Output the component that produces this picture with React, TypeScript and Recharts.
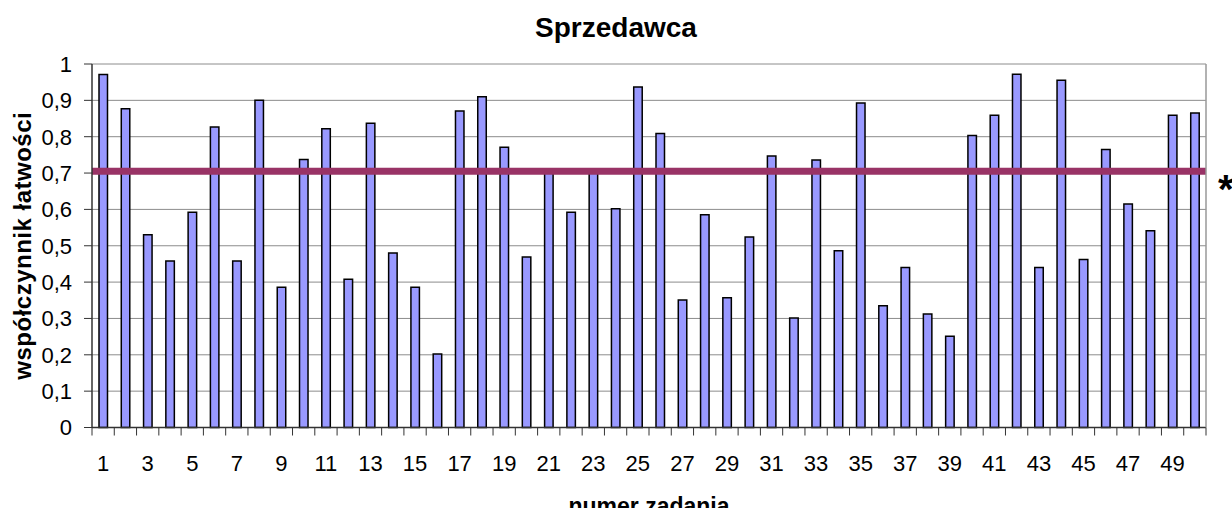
import { BarChart, Bar, XAxis, YAxis, CartesianGrid, ReferenceLine } from 'recharts'

const TASKS = [
  '1', '2', '3', '4', '5', '6', '7', '8', '9', '10',
  '11', '12', '13', '14', '15', '16', '17', '18', '19', '20',
  '21', '22', '23', '24', '25', '26', '27', '28', '29', '30',
  '31', '32', '33', '34', '35', '36', '37', '38', '39', '40',
  '41', '42', '43', '44', '45', '46', '47', '48', '49', '50',
]

const EASE = [
  0.971, 0.877, 0.53, 0.458, 0.592, 0.827, 0.458, 0.9, 0.386, 0.737,
  0.822, 0.408, 0.837, 0.48, 0.386, 0.202, 0.871, 0.91, 0.771, 0.469,
  0.703, 0.592, 0.703, 0.602, 0.937, 0.809, 0.351, 0.585, 0.357, 0.524,
  0.747, 0.301, 0.736, 0.486, 0.893, 0.335, 0.44, 0.312, 0.251, 0.803,
  0.859, 0.972, 0.44, 0.955, 0.462, 0.765, 0.615, 0.541, 0.859, 0.865,
]

const Y_TICKS = [0, 0.1, 0.2, 0.3, 0.4, 0.5, 0.6, 0.7, 0.8, 0.9, 1]
const THRESHOLD = 0.705

const TITLE = 'Sprzedawca'
const Y_TITLE = 'współczynnik łatwości'
const X_TITLE = 'numer zadania'
const MARK = '*'

const W = 1232
const H = 508
const FONT = '"Liberation Sans", Arial, sans-serif'
const AXIS = '#333333'
const GRID = '#8c8c8c'
const BORDER = '#999999'

const data = TASKS.map((task, i) => ({ task, value: EASE[i] }))

// excel style: tick marks between categories, label on every second one
function XTick(props: any) {
  const { x, y, payload, index } = props
  const half = payload?.offset || (W - 92 - 26) / TASKS.length / 2
  const last = index === TASKS.length - 1
  return (
    <g>
      <line x1={x - half} x2={x - half} y1={y} y2={y + 8} stroke={AXIS} />
      {last && <line x1={x + half} x2={x + half} y1={y} y2={y + 8} stroke={AXIS} />}
      {index % 2 === 0 && (
        <text x={x} y={y + 43.5} textAnchor="middle" fontSize={22} fontFamily={FONT} fill="#000">
          {payload.value}
        </text>
      )}
    </g>
  )
}

export default function App() {
  return (
    <div style={{ position: 'absolute', left: 0, top: 0, width: W, height: H, background: '#fff' }}>
      <div
        style={{
          position: 'absolute', left: 0, top: 11, width: W, height: 34,
          lineHeight: '34px', textAlign: 'center', fontFamily: FONT,
          fontWeight: 'bold', fontSize: 28, color: '#000',
        }}
      >
        {TITLE}
      </div>
      <BarChart width={W} height={H} data={data} margin={{ top: 64, right: 0, bottom: 0, left: 0 }}>
        <CartesianGrid vertical={false} stroke={GRID} />
        <XAxis
          dataKey="task"
          height={80.5}
          interval={0}
          tickLine={false}
          tickSize={0}
          tickMargin={0}
          axisLine={{ stroke: AXIS, strokeWidth: 1.5 }}
          tick={<XTick />}
          label={{
            content: ({ viewBox }: any) => (
              <text
                x={viewBox.x + viewBox.width / 2}
                y={viewBox.y + 86.5}
                textAnchor="middle"
                fontSize={23}
                fontWeight="bold"
                fontFamily={FONT}
                fill="#000"
              >
                {X_TITLE}
              </text>
            ),
          }}
        />
        <YAxis
          width={92}
          domain={[0, 1]}
          ticks={Y_TICKS}
          interval={0}
          tickSize={8}
          tickMargin={12}
          tickFormatter={(v: number) => String(v).replace('.', ',')}
          tick={{ fill: '#000', fontSize: 22, fontFamily: FONT }}
          tickLine={{ stroke: AXIS }}
          axisLine={{ stroke: AXIS, strokeWidth: 1.5 }}
          label={{
            content: ({ viewBox }: any) => (
              <text
                transform={`translate(${viewBox.x + 31},${viewBox.y + viewBox.height / 2}) rotate(-90)`}
                textAnchor="middle"
                fontSize={24}
                fontWeight="bold"
                letterSpacing={0.5}
                fontFamily={FONT}
                fill="#000"
              >
                {Y_TITLE}
              </text>
            ),
          }}
        />
        <YAxis
          yAxisId="r"
          orientation="right"
          width={26}
          domain={[0, 1]}
          tick={false}
          tickLine={false}
          axisLine={{ stroke: BORDER, strokeWidth: 1.5 }}
        />
        <Bar
          dataKey="value"
          barSize={8.5}
          fill="#9999ff"
          stroke="#000"
          strokeWidth={1.5}
          isAnimationActive={false}
        />
        <ReferenceLine
          y={THRESHOLD}
          stroke="#993366"
          strokeWidth={7}
          label={{
            content: ({ viewBox }: any) => (
              <text
                x={viewBox.x + viewBox.width + 12}
                y={viewBox.y + 32}
                fontSize={40}
                fontWeight="bold"
                fontFamily={FONT}
                fill="#000"
              >
                {MARK}
              </text>
            ),
          }}
        />
      </BarChart>
    </div>
  )
}
